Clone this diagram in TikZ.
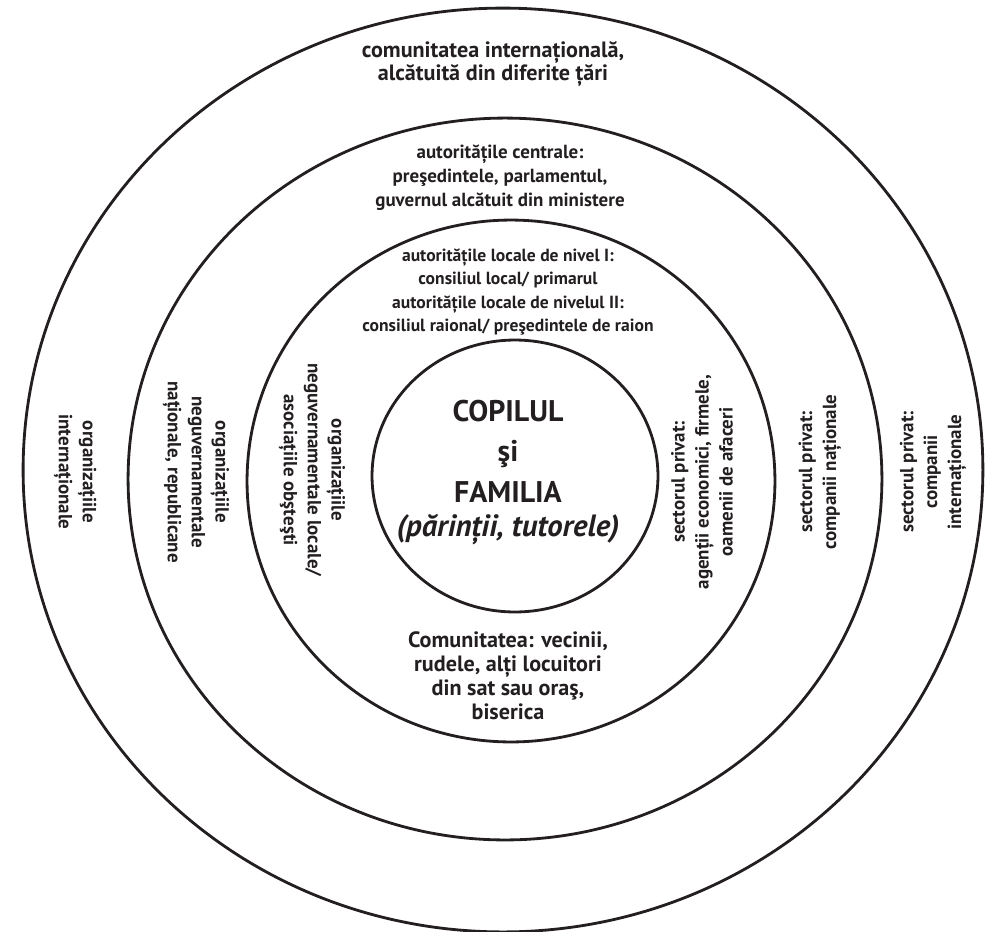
\documentclass[tikz,border=0pt]{standalone}
\usepackage{fontspec}
\setmainfont{PT Sans}
\definecolor{textgri}{HTML}{231F20}
\tikzset{
  eticheta/.style={align=center, text=textgri, font=\bfseries\fontsize{10.8}{13.6}\selectfont},
  mare/.style={eticheta, font=\bfseries\fontsize{12.6}{13.6}\selectfont},
  mica/.style={eticheta, font=\bfseries\fontsize{10}{13.4}\selectfont},
  centru/.style={align=center, text=textgri, font=\bfseries\fontsize{17}{23}\selectfont},
  paranteza/.style={text=textgri, font=\bfseries\itshape\fontsize{17.5}{21}\selectfont}
}
\begin{document}
\begin{tikzpicture}[x=0.02cm, y=-0.02cm, line width=1.6pt]
  \useasboundingbox (0,0) rectangle (985,931);
  \draw[textgri] (503,470) ellipse (9.6cm and 9.24cm); % cercul exterior
  \draw[textgri] (505,479) ellipse (7.54cm and 7.22cm);
  \draw[textgri] (511,481) ellipse (5.28cm and 5.22cm);
  \draw[textgri] (515,476) ellipse (2.86cm and 2.72cm); % copilul
  % sus
  \node[mare] (international) at (493,64) {comunitatea internațională,\\ alcătuită din diferite țări};
  \node[eticheta] (centrale) at (500,178) {autoritățile centrale:\\ preşedintele, parlamentul,\\ guvernul alcătuit din ministere};
  \node[mica] (locale) at (508,292) {autoritățile locale de nivel I:\\ consiliul local/ primarul\\ autoritățile locale de nivelul II:\\ consiliul raional/ preşedintele de raion};
  % centru
  \node[centru] (copil) at (508,451) {COPILUL\\ şi\\ FAMILIA};
  \node[paranteza] (parinti) at (508,530) {(părinții, tutorele)};
  % jos
  \node[mare] (comunitate) at (508,676) {Comunitatea: vecinii,\\ rudele, alți locuitori\\ din sat sau oraş,\\ biserica};
  % stanga
  \node[eticheta, rotate=-90] (orgint) at (75,472) {organizațiile\\ internaționale};
  \node[eticheta, rotate=-90] (ongnat) at (196,472) {organizațiile\\ neguvernamentale\\ naționale, republicane};
  \node[eticheta, rotate=-90] (ongloc) at (312,470) {organizațiile\\ neguvernamentale locale/\\ asociațiile obşteşti};
  % dreapta
  \node[eticheta, rotate=90] (privloc) at (702,482) {sectorul privat:\\ agenții economici, firmele,\\ oamenii de afaceri};
  \node[eticheta, rotate=90] (privnat) at (820,472) {sectorul privat:\\ companii naționale};
  \node[eticheta, rotate=90] (privint) at (933,472) {sectorul privat:\\ companii\\ internaționale};
\end{tikzpicture}
\end{document}
